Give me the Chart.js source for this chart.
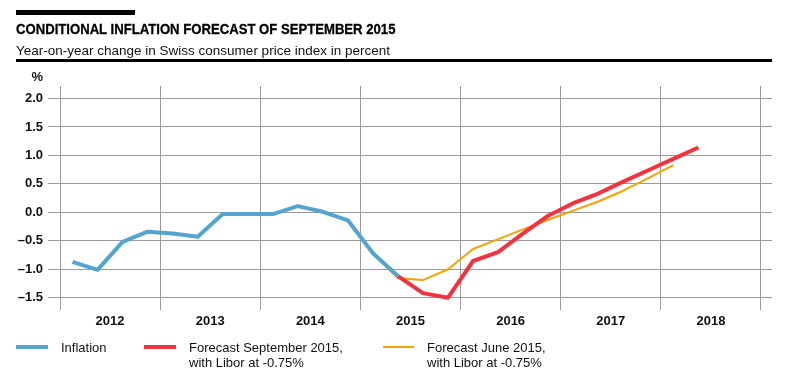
<!DOCTYPE html>
<html>
<head>
<meta charset="utf-8">
<script src="https://cdn.jsdelivr.net/npm/chart.js@4/dist/chart.umd.min.js"></script>
<style>
  body { margin: 0; background: #fff; font-family: 'Liberation Sans', Arial, sans-serif; color: #111; }
  #wrap { position: relative; width: 791px; height: 390px; }
  #wrap canvas { position: absolute; left: 0; top: 0; }
  .abs { position: absolute; white-space: nowrap; }
  .bar { left: 16px; top: 10px; width: 119px; height: 5px; background: #000; }
  .rule { left: 16px; top: 59px; width: 756px; height: 3px; background: #000; }
  .title { left: 16px; top: 20.6px; font-size: 15px; line-height: 15px; font-weight: bold; color: #000;
           -webkit-text-stroke: 0.3px #000;
           transform: scaleX(0.875); transform-origin: left top; }
  .subtitle { left: 16px; top: 44px; font-size: 13.5px; line-height: 13.5px; }
  .unit { left: 0; width: 43px; top: 70px; text-align: right; font-size: 13px; line-height: 13px; font-weight: bold; }
  .lg-line { height: 4px; }
  .lg-text { font-size: 13px; line-height: 15px; }
</style>
</head>
<body>
<div id="wrap">
  <canvas id="inflationChart"></canvas>
  <div class="abs bar"></div>
  <div class="abs title">CONDITIONAL INFLATION FORECAST OF SEPTEMBER 2015</div>
  <div class="abs subtitle">Year-on-year change in Swiss consumer price index in percent</div>
  <div class="abs rule"></div>
  <div class="abs unit">%</div>

  <div class="abs lg-line" style="left:16px;top:345px;width:32px;background:#54a4d0"></div>
  <div class="abs lg-text" style="left:61px;top:340px">Inflation</div>

  <div class="abs lg-line" style="left:144px;top:345px;width:32px;background:#f2333f"></div>
  <div class="abs lg-text" style="left:189px;top:340px">Forecast September 2015,<br>with Libor at -0.75%</div>

  <div class="abs lg-line" style="left:383px;top:346px;width:31px;height:2px;background:#f8a100"></div>
  <div class="abs lg-text" style="left:427px;top:340px">Forecast June 2015,<br>with Libor at -0.75%</div>
</div>

<script>
// Year labels and y ticks
const yearLabels = ['2012', '2013', '2014', '2015', '2016', '2017', '2018']
const yTicks = [-1.5, -1.0, -0.5, 0.0, 0.5, 1.0, 1.5, 2.0]

// Quarterly series (value per quarter, starting at the given quarter)
const inflationStart = '2012 Q1'
const inflation = [-0.87, -1.01, -0.52, -0.34, -0.37, -0.43, -0.03, -0.03, -0.03, 0.11, 0.01, -0.14, -0.72, -1.12]

const forecastSepStart = '2015 Q2'
const forecastSep = [-1.12, -1.42, -1.5, -0.855, -0.7, -0.37, -0.06, 0.16, 0.33, 0.54, 0.74, 0.94, 1.14]

const forecastJunStart = '2015 Q1'
const forecastJun = [-0.72, -1.16, -1.19, -1.0, -0.645, -0.47, -0.3, -0.13, 0.03, 0.19, 0.38, 0.6, 0.83]

// quarter 'YYYY Qn' -> position on the year axis (middle of the quarter)
function quarterX(start, i) {
  const [y, q] = start.split(' Q').map(Number)
  const idx = (q - 1) + i
  return y + (idx + 0.5) / 4
}

function toPoints(start, values) {
  return values.map((v, i) => ({ x: quarterX(start, i), y: v }))
}

const gridGray = '#9a9a9a'
const firstYear = Number(yearLabels[0])
const lastYear = Number(yearLabels[yearLabels.length - 1]) + 1

Chart.defaults.font.family = "'Liberation Sans', Arial, sans-serif"
Chart.defaults.color = '#111'

const ctx = document.getElementById('inflationChart').getContext('2d')

new Chart(ctx, {
  type: 'line',
  data: {
    datasets: [
      {
        label: 'Inflation',
        data: toPoints(inflationStart, inflation),
        borderColor: '#54a4d0',
        borderWidth: 4,
        order: 0
      },
      {
        label: 'Forecast September 2015, with Libor at -0.75%',
        data: toPoints(forecastSepStart, forecastSep),
        borderColor: '#f2333f',
        borderWidth: 4,
        order: 1
      },
      {
        label: 'Forecast June 2015, with Libor at -0.75%',
        data: toPoints(forecastJunStart, forecastJun),
        borderColor: '#f8a100',
        borderWidth: 2,
        order: 2
      }
    ]
  },
  options: {
    responsive: true,
    maintainAspectRatio: false,
    animation: false,
    parsing: false,
    elements: {
      point: { radius: 0 },
      line: { tension: 0, borderJoinStyle: 'round' }
    },
    layout: {
      padding: { left: 0, right: 19, top: 86, bottom: 0 }
    },
    plugins: {
      legend: { display: false },
      tooltip: { enabled: false }
    },
    scales: {
      x: {
        type: 'linear',
        min: firstYear,
        max: lastYear + 0.11,
        afterBuildTicks: (scale) => {
          const ticks = []
          for (let y = firstYear; y <= lastYear; y += 0.5) ticks.push({ value: y })
          scale.ticks = ticks
        },
        afterFit: (scale) => { scale.height = 80 },
        border: { display: false },
        grid: {
          drawTicks: false,
          color: (c) => (c.tick && c.tick.value % 1 === 0 ? gridGray : 'rgba(0,0,0,0)'),
          lineWidth: 1
        },
        ticks: {
          autoSkip: false,
          maxRotation: 0,
          padding: 4,
          font: { size: 13, weight: 'bold' },
          callback: (v) => {
            if (v % 1 === 0) return ''
            const label = yearLabels[Math.floor(v) - firstYear]
            return label || ''
          }
        }
      },
      y: {
        type: 'linear',
        min: -1.716,
        max: 2.22,
        afterBuildTicks: (scale) => {
          scale.ticks = yTicks.map((v) => ({ value: v }))
        },
        afterFit: (scale) => { scale.width = 60 },
        border: { display: false },
        grid: {
          color: gridGray,
          lineWidth: 1,
          tickLength: 12
        },
        ticks: {
          padding: 5,
          font: { size: 13, weight: 'bold' },
          callback: (v) => v.toFixed(1).replace('-', '\u2013')
        }
      }
    }
  }
})
</script>
</body>
</html>
